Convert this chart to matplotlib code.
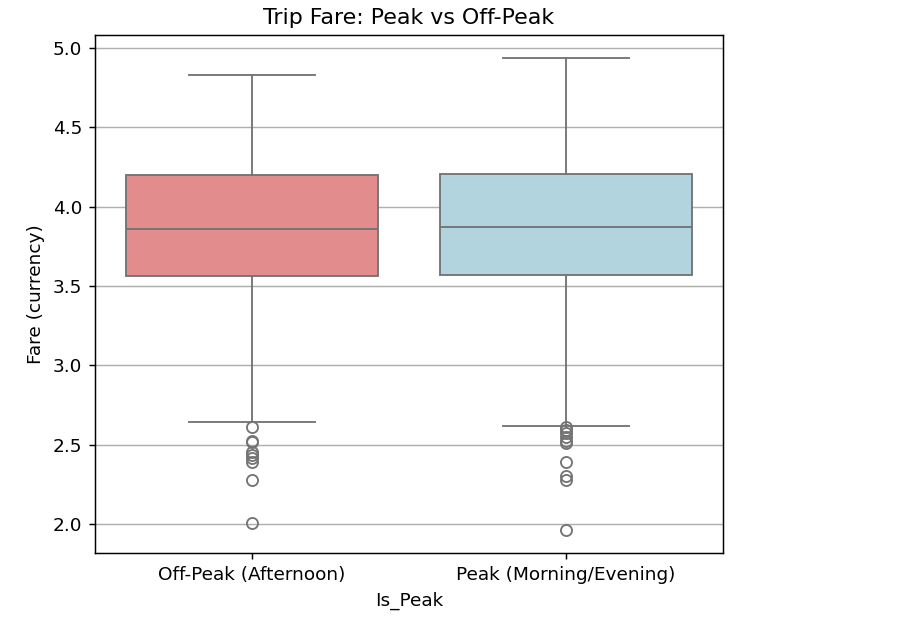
import matplotlib
matplotlib.use("Agg")
import matplotlib.pyplot as plt

categories = ["Off-Peak (Afternoon)", "Peak (Morning/Evening)"]
q1 = [3.563, 3.569]
median = [3.859, 3.872]
q3 = [4.200, 4.206]
whisker_low = [2.643, 2.618]
whisker_high = [4.830, 4.937]
fliers = [
    [2.613, 2.525, 2.515, 2.456, 2.435, 2.414, 2.393, 2.277, 2.004],
    [2.610, 2.590, 2.575, 2.550, 2.525, 2.510, 2.389, 2.303, 2.277, 1.962],
]
box_colors = ["#e28c8e", "#b2d4df"]
yticks = [2.0, 2.5, 3.0, 3.5, 4.0, 4.5, 5.0]

line_color = "#737373"
DPI = 133

fig = plt.figure(figsize=(898 / DPI, 631 / DPI), dpi=DPI)
ax = fig.add_axes([95 / 898, (631 - 553) / 631, 628 / 898, 518 / 631])

stats = []
for i, c in enumerate(categories):
    stats.append(dict(label=c, q1=q1[i], med=median[i], q3=q3[i],
                      whislo=whisker_low[i], whishi=whisker_high[i],
                      fliers=fliers[i]))

lw = 1.0
bp = ax.bxp(stats, positions=range(len(categories)), widths=0.8,
            patch_artist=True, showfliers=True,
            boxprops=dict(edgecolor=line_color, linewidth=lw),
            medianprops=dict(color=line_color, linewidth=lw),
            whiskerprops=dict(color=line_color, linewidth=lw),
            capprops=dict(color=line_color, linewidth=lw),
            flierprops=dict(marker="o", markerfacecolor="none",
                            markeredgecolor=line_color, markersize=6,
                            markeredgewidth=lw, linestyle="none"),
            zorder=3)
for patch, col in zip(bp["boxes"], box_colors):
    patch.set_facecolor(col)

for i, cap in enumerate(bp["caps"]):
    pos = i // 2
    cap.set_xdata([pos - 0.2, pos + 0.2])

ax.set_xlim(-0.5, 1.5)
ax.set_ylim(1.817, 5.082)
ax.set_yticks(yticks)
ax.set_xticks(range(len(categories)))
ax.set_xticklabels(categories)
ax.yaxis.grid(True, color="#b0b0b0", linewidth=0.8, zorder=0)
ax.set_axisbelow(True)

ax.set_title("Trip Fare: Peak vs Off-Peak", fontsize=12)
ax.set_xlabel("Is_Peak")
ax.set_ylabel("Fare (currency)")

fig.savefig("out.png", dpi=DPI)
